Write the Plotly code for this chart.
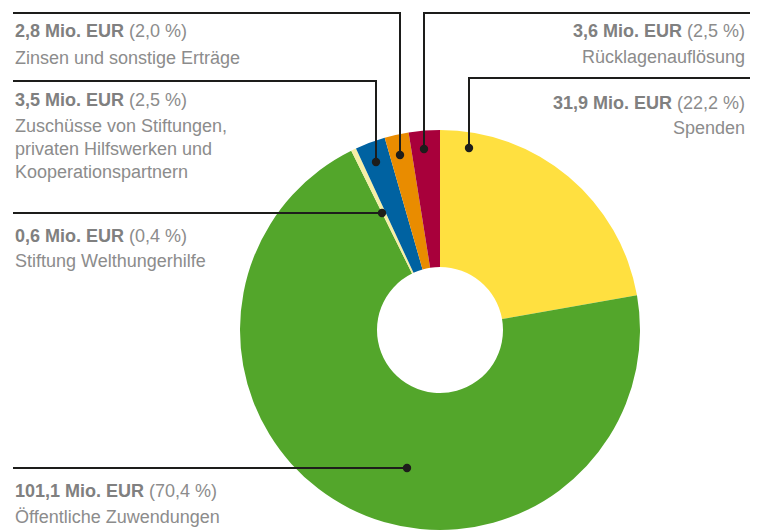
import plotly.graph_objects as go

W, H = 769, 531

# Data
labels = ["Spenden", "Öffentliche Zuwendungen", "Stiftung Welthungerhilfe",
          "Zuschüsse von Stiftungen, privaten Hilfswerken und Kooperationspartnern",
          "Zinsen und sonstige Erträge", "Rücklagenauflösung"]
values = [31.9, 101.1, 0.6, 3.5, 2.8, 3.6]          # Mio. EUR
percents = [22.2, 70.4, 0.4, 2.5, 2.0, 2.5]         # %
desc_lines = [["Spenden"], ["Öffentliche Zuwendungen"], ["Stiftung Welthungerhilfe"],
              ["Zuschüsse von Stiftungen,", "privaten Hilfswerken und", "Kooperationspartnern"],
              ["Zinsen und sonstige Erträge"], ["Rücklagenauflösung"]]
colors = ["#FFE040", "#53A62B", "#F6EFA6", "#0062A1", "#E98C00", "#A8003B"]

def de(v):
    return f"{v:.1f}".replace(".", ",")

def px(x):
    return x / W

def py(y):
    return 1 - y / H

fig = go.Figure()
fig.add_trace(go.Pie(
    labels=labels, values=values, sort=False, direction="clockwise", rotation=0,
    hole=0.315, marker=dict(colors=colors, line=dict(width=0)),
    textinfo="none", hoverinfo="label+value", showlegend=False,
    domain=dict(x=[px(240), px(640)], y=[py(530), py(130)]),
))

label_layout = [
    dict(path=[(750, 78), (469, 78), (469, 148)], dot=(469, 148), side="right", tx=747, ty=102.5),
    dict(path=[(13, 468), (407, 468)], dot=(407, 468), side="left", tx=13, ty=490.5),
    dict(path=[(13, 213), (382, 213)], dot=(382, 213), side="left", tx=13, ty=235.5),
    dict(path=[(13, 81), (376, 81), (376, 162)], dot=(376, 162), side="left", tx=13, ty=99.5),
    dict(path=[(13, 13), (400, 13), (400, 155)], dot=(400, 155), side="left", tx=13, ty=31.5),
    dict(path=[(750, 13), (424, 13), (424, 149)], dot=(424, 149), side="right", tx=747, ty=31),
]

LINE = "#1d1d1b"
TXT = "#8c8c8c"
BOLD = "#808080"
FONT = "Liberation Sans"
FS = 18
shapes = []
annotations = []
for i, L in enumerate(label_layout):
    pts = L["path"]
    d = "M " + " L ".join(f"{px(x)},{py(y)}" for x, y in pts)
    shapes.append(dict(type="path", path=d, xref="paper", yref="paper",
                       line=dict(color=LINE, width=2)))
    cx, cy = L["dot"]
    r = 4.2
    shapes.append(dict(type="circle", xref="paper", yref="paper",
                       x0=px(cx - r), x1=px(cx + r), y0=py(cy + r), y1=py(cy - r),
                       fillcolor=LINE, line=dict(width=0)))
    lines = [f"<b><span style='color:{BOLD}'>{de(values[i])} Mio. EUR</span></b> ({de(percents[i])} %)"] + desc_lines[i]
    y = L["ty"]
    for k, t in enumerate(lines):
        annotations.append(dict(
            text=t, x=px(L["tx"]), y=py(y), xref="paper", yref="paper",
            xanchor=L["side"], yanchor="middle", showarrow=False,
            align=L["side"], font=dict(family=FONT, size=FS, color=TXT)))
        y += 26 if k == 0 else 23.5

fig.update_layout(
    width=W, height=H, margin=dict(l=0, r=0, t=0, b=0),
    paper_bgcolor="white", plot_bgcolor="white",
    shapes=shapes, annotations=annotations,
)
fig.write_html("out.html", config={"displayModeBar": False},
               post_script="document.body.style.margin='0';document.body.style.overflow='hidden';")
